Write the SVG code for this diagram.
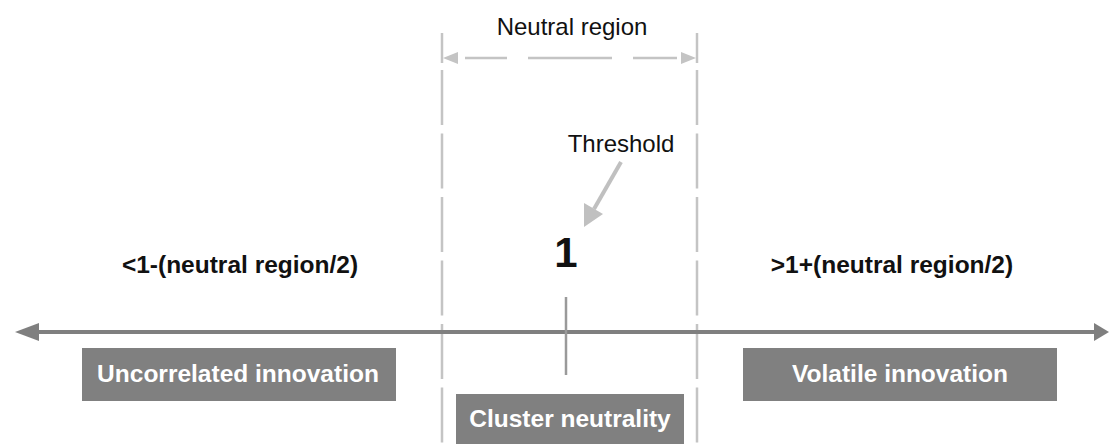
<svg xmlns="http://www.w3.org/2000/svg" width="1109" height="444" viewBox="0 0 1109 444">
  <style>
    .lbl { font-family: "Liberation Sans", Arial, sans-serif; fill: #111; }
    .bold { font-weight: bold; }
    .boxText { font-family: "Liberation Sans", Arial, sans-serif; font-weight: bold; fill: #ffffff; font-size: 24.5px; text-anchor: middle; }
    .box { fill: #808080; }
    .guide { stroke: #c4c4c4; stroke-width: 2.5; fill: none; }
    .axis { stroke: #7f7f7f; stroke-width: 4; fill: none; }
  </style>
  <rect width="1109" height="444" fill="#ffffff"/>

  <g id="connectors">
    <!-- vertical dashed bounds of the neutral region -->
    <line class="guide" x1="442" y1="33" x2="442" y2="63"/>
    <line class="guide" x1="442" y1="70" x2="442" y2="444" stroke-dasharray="55 8.5"/>
    <line class="guide" x1="697" y1="33" x2="697" y2="63"/>
    <line class="guide" x1="697" y1="70" x2="697" y2="444" stroke-dasharray="55 8.5"/>

    <!-- neutral region dimension line -->
    <polygon points="443,58 458,52 458,64" fill="#c4c4c4"/>
    <line class="guide" x1="465" y1="58" x2="507" y2="58"/>
    <line class="guide" x1="528" y1="58" x2="612" y2="58"/>
    <line class="guide" x1="633" y1="58" x2="677" y2="58"/>
    <polygon points="696,58 681,52 681,64" fill="#c4c4c4"/>

    <!-- main axis with arrowheads at both ends -->
    <line class="axis" x1="36" y1="332" x2="1096" y2="332"/>
    <polygon points="15,332 39,323 39,341" fill="#7f7f7f"/>
    <polygon points="1109,332 1094,323 1094,341" fill="#7f7f7f"/>

    <!-- tick at the value 1 -->
    <line x1="566" y1="297" x2="566" y2="375" stroke="#9a9a9a" stroke-width="2.5"/>

    <!-- threshold pointer -->
    <line x1="621" y1="162" x2="594" y2="209" stroke="#c0c0c0" stroke-width="4"/>
    <polygon points="584,227 584,203 603,214" fill="#c0c0c0"/>
  </g>

  <g id="neutral-region-label">
    <text class="lbl" x="572" y="35" font-size="24" text-anchor="middle">Neutral region</text>
  </g>

  <g id="threshold-label">
    <text class="lbl" x="621" y="152" font-size="24" text-anchor="middle">Threshold</text>
  </g>

  <g id="value-one">
    <text class="lbl bold" x="566" y="267" font-size="42" text-anchor="middle">1</text>
  </g>

  <g id="lower-bound">
    <text class="lbl bold" x="240" y="273" font-size="24.5" text-anchor="middle">&lt;1-(neutral region/2)</text>
  </g>

  <g id="upper-bound">
    <text class="lbl bold" x="892" y="273" font-size="24.5" text-anchor="middle">&gt;1+(neutral region/2)</text>
  </g>

  <g id="uncorrelated-innovation">
    <rect class="box" x="82" y="348" width="314" height="53"/>
    <text class="boxText" x="238" y="382">Uncorrelated innovation</text>
  </g>

  <g id="cluster-neutrality">
    <rect class="box" x="456" y="394" width="228" height="60"/>
    <text class="boxText" x="570" y="427">Cluster neutrality</text>
  </g>

  <g id="volatile-innovation">
    <rect class="box" x="743" y="348" width="314" height="53"/>
    <text class="boxText" x="900" y="382">Volatile innovation</text>
  </g>
</svg>
